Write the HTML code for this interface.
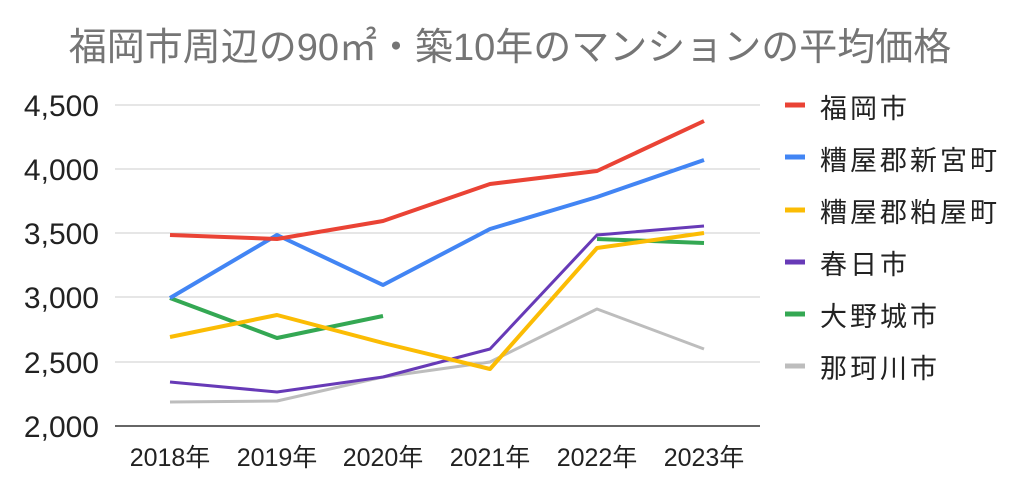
<!DOCTYPE html>
<html><head><meta charset="utf-8"><style>
body{margin:0;background:#fff;}
svg{display:block;font-family:"Liberation Sans","Noto Sans CJK JP",sans-serif;}
</style></head><body>
<svg width="1024" height="493" viewBox="0 0 1024 493">
<text x="510" y="60" text-anchor="middle" font-size="38" fill="#757575">福岡市周辺の90㎡・築10年のマンションの平均価格</text>
<g stroke="#ccc" stroke-width="1">
<line x1="115" y1="105" x2="760" y2="105"/>
<line x1="115" y1="169" x2="760" y2="169"/>
<line x1="115" y1="233" x2="760" y2="233"/>
<line x1="115" y1="297" x2="760" y2="297"/>
<line x1="115" y1="362" x2="760" y2="362"/>
</g>
<line x1="115" y1="426" x2="760" y2="426" stroke="#333" stroke-width="1.5"/>
<g font-size="30" fill="#222" text-anchor="end">
<text x="99" y="116">4,500</text>
<text x="99" y="180">4,000</text>
<text x="99" y="244">3,500</text>
<text x="99" y="308">3,000</text>
<text x="99" y="373">2,500</text>
<text x="99" y="437">2,000</text>
</g>
<g font-size="25" fill="#222" text-anchor="middle">
<text x="170" y="466">2018年</text>
<text x="277" y="466">2019年</text>
<text x="383" y="466">2020年</text>
<text x="490" y="466">2021年</text>
<text x="597" y="466">2022年</text>
<text x="704" y="466">2023年</text>
</g>
<g fill="none" stroke-linejoin="round">
<polyline stroke="#bdbdbd" stroke-width="3" points="170,402 277,401 383,377 490,362 597,309 704,349"/>
<polyline stroke="#673ab7" stroke-width="3" points="170,382 277,392 383,377 490,349 597,235 704,226"/>
<polyline stroke="#34a853" stroke-width="4" points="170,298 277,338 383,316"/>
<polyline stroke="#34a853" stroke-width="4" points="597,239 704,243"/>
<polyline stroke="#fbbc04" stroke-width="4" points="170,337 277,315 383,343 490,369 597,248 704,233"/>
<polyline stroke="#4285f4" stroke-width="4" points="170,298 277,235 383,285 490,229 597,197 704,160"/>
<polyline stroke="#ea4335" stroke-width="4" points="170,235 277,239 383,221 490,184 597,171 704,121"/>
</g>
<g stroke-width="5">
<line x1="785" y1="105" x2="805" y2="105" stroke="#ea4335"/>
<line x1="785" y1="157" x2="805" y2="157" stroke="#4285f4"/>
<line x1="785" y1="210" x2="805" y2="210" stroke="#fbbc04"/>
<line x1="785" y1="262" x2="805" y2="262" stroke="#673ab7"/>
<line x1="785" y1="314" x2="805" y2="314" stroke="#34a853"/>
<line x1="785" y1="366" x2="805" y2="366" stroke="#bdbdbd"/>
</g>
<g font-size="27" fill="#222" letter-spacing="3">
<text x="820" y="118">福岡市</text>
<text x="820" y="170">糟屋郡新宮町</text>
<text x="820" y="222">糟屋郡粕屋町</text>
<text x="820" y="274">春日市</text>
<text x="820" y="326">大野城市</text>
<text x="820" y="378">那珂川市</text>
</g>
</svg>
</body></html>
